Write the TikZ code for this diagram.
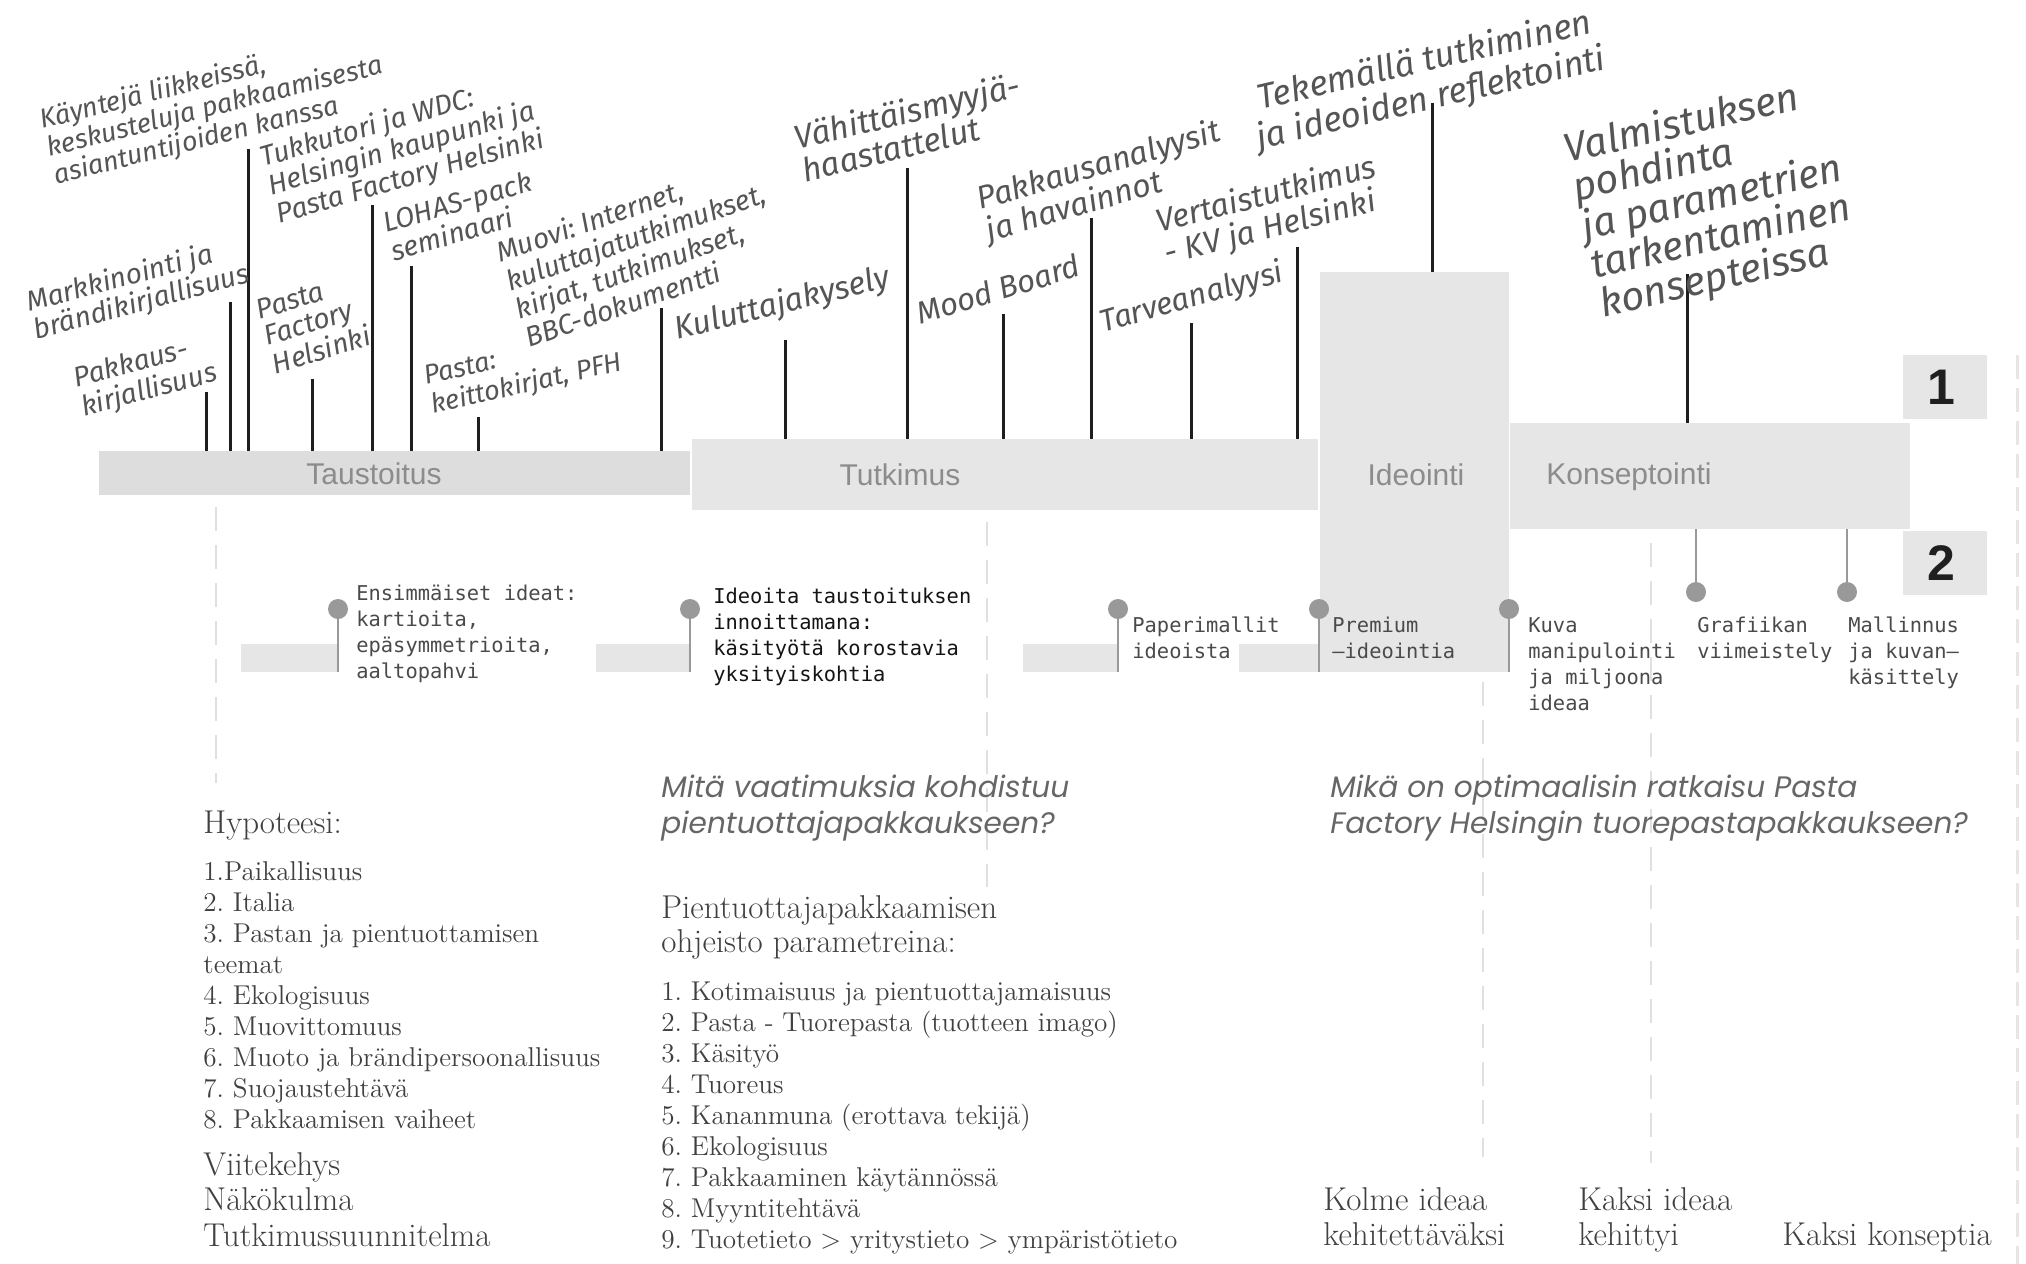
\documentclass[tikz,border=0pt]{standalone}
\usepackage{fontspec}
\newfontfamily\barfont{Liberation Sans}
\newfontfamily\pinfont{DejaVu Sans Mono}
\newfontfamily\qfont{Poppins}
\newfontfamily\handfont{Fira Sans}
\frenchspacing
\definecolor{barA}{HTML}{DDDDDD}
\definecolor{barB}{HTML}{E6E6E6}
\definecolor{tickcol}{HTML}{1E1E1E}
\definecolor{pincol}{HTML}{999999}
\definecolor{dashcol}{HTML}{E0E0E0}
\definecolor{serifcol}{HTML}{404040}
\definecolor{qcol}{HTML}{666666}
\definecolor{handcol}{HTML}{555555}
\definecolor{barlab}{HTML}{8C8C8C}
\definecolor{pintext}{HTML}{4A4A4A}
\newcommand\mlines[1]{\begin{tabular}[t]{@{}l@{}}#1\end{tabular}}
\tikzset{
  barbox/.style={rectangle, anchor=north west, inner sep=0pt, outer sep=0pt, draw=none, fill=barB},
  barlabel/.style={inner sep=0pt, text=barlab, font=\barfont\fontsize{15pt}{18pt}\selectfont},
  numlabel/.style={font=\barfont\bfseries\fontsize{25pt}{30pt}\selectfont, text=black!88},
  tickline/.style={draw=tickcol, line width=1.5pt},
  dashline/.style={draw=dashcol, line width=1pt, dash pattern=on 12pt off 7pt},
  pinhead/.style={circle, fill=pincol, inner sep=0pt, minimum size=10pt},
  pinstem/.style={draw=pincol, line width=1.3pt},
  pintxt/.style={anchor=base west, inner sep=0pt, text=pintext, font=\pinfont\fontsize{10.2pt}{13pt}\selectfont},
  hand/.style 2 args={anchor=base west, inner sep=0pt, text=handcol, font=\handfont\itshape\fontsize{#1}{#2}\selectfont},
  serifhead/.style={anchor=base west, inner sep=0pt, text=serifcol, font=\fontsize{16.5pt}{17.75pt}\selectfont},
  seriflist/.style={anchor=base west, inner sep=0pt, text=serifcol, font=\fontsize{13.6pt}{15.5pt}\selectfont},
  qtext/.style={anchor=base west, inner sep=0pt, text=qcol, font=\qfont\itshape\fontsize{14.8pt}{18pt}\selectfont}
}
\begin{document}
\begin{tikzpicture}[x=0.5pt,y=-0.5pt]
\useasboundingbox[fill=white] (0,0) rectangle (2026,1264);

% dashed guide lines
\coordinate (d1a) at (216,507);  \coordinate (d1b) at (216,783);
\coordinate (d2a) at (987,522);  \coordinate (d2b) at (987,887);
\coordinate (d3a) at (1483,682); \coordinate (d3b) at (1483,1157);
\coordinate (d4a) at (1651,543); \coordinate (d4b) at (1651,1163);
\coordinate (d5a) at (2017,355); \coordinate (d5b) at (2017,1264);
\draw[dashline] (d1a) -- (d1b);
\draw[dashline] (d2a) -- (d2b);
\draw[dashline] (d3a) -- (d3b);
\draw[dashline] (d4a) -- (d4b);
\draw[dashline, line width=1.5pt, draw=dashcol!80, dash pattern=on 12pt off 4.5pt] (d5a) -- (d5b);

% phase bars
\node[barbox, fill=barA, minimum width=295.5pt, minimum height=22pt] (taus) at (99,451) {};
\node[barbox, minimum width=313pt, minimum height=35.5pt] (tutk) at (692,439) {};
\node[barbox, minimum width=94.5pt, minimum height=200pt] (ideo) at (1320,272) {};
\node[barbox, minimum width=200pt, minimum height=53pt] (kons) at (1510,423) {};
\node[barbox, minimum width=42pt, minimum height=32pt] (box1) at (1903,355) {};
\node[barbox, minimum width=42pt, minimum height=32pt] (box2) at (1903,531) {};
\node[numlabel] (n1) at (1941,387) {1};
\node[numlabel] (n2) at (1941,563) {2};

\node[barlabel] (ltaus) at (374,474) {Taustoitus};
\node[barlabel] (ltutk) at (900,475) {Tutkimus};
\node[barlabel] (lideo) at (1416,475) {Ideointi};
\node[barlabel, anchor=west] (lkons) at (1546,477) {Konseptointi};

% small strips
\node[barbox, minimum width=48.5pt, minimum height=14pt] (s1) at (241,644) {};
\node[barbox, minimum width=47pt, minimum height=14pt] (s2) at (596,644) {};
\node[barbox, minimum width=47.5pt, minimum height=14pt] (s3) at (1023,644) {};
\node[barbox, minimum width=40pt, minimum height=14pt] (s4) at (1239,644) {};

% ticks
\coordinate (k1) at (206,392);
\coordinate (k2) at (230,302);
\coordinate (k3) at (248,149);
\coordinate (k4) at (312,379);
\coordinate (k5) at (372,205);
\coordinate (k6) at (411,266);
\coordinate (k7) at (478,417);
\coordinate (k8) at (661,308);
\coordinate (k9) at (785,340);
\coordinate (k10) at (907,168);
\coordinate (k11) at (1003,314);
\coordinate (k12) at (1091,218);
\coordinate (k13) at (1191,323);
\coordinate (k14) at (1297,247);
\coordinate (k15) at (1432,103);
\coordinate (k16) at (1687,274);
\foreach \k in {k1,k2,k3,k4,k5,k6,k7,k8} {\draw[tickline] (\k) -- (\k |- taus.north);}
\foreach \k in {k9,k10,k11,k12,k13,k14} {\draw[tickline] (\k) -- (\k |- tutk.north);}
\draw[tickline] (k15) -- (k15 |- ideo.north);
\draw[tickline] (k16) -- (k16 |- kons.north);

% handwritten labels
\node[hand={13.5pt}{12.5pt}, rotate=14] (h1) at (42,129) {\mlines{Käyntejä liikkeissä,\\keskusteluja pakkaamisesta\\asiantuntijoiden kanssa}};
\node[hand={14pt}{11pt}, rotate=15] (h2) at (29,312) {\mlines{Markkinointi ja\\brändikirjallisuus}};
\node[hand={14pt}{13pt}, rotate=15] (h3) at (76,388) {\mlines{Pakkaus-\\kirjallisuus}};
\node[hand={14pt}{13pt}, rotate=17] (h4) at (259,320) {\mlines{Pasta\\Factory\\Helsinki}};
\node[hand={14pt}{12.5pt}, rotate=16] (h5) at (263,167) {\mlines{Tukkutori ja WDC:\\Helsingin kaupunki ja\\Pasta Factory Helsinki}};
\node[hand={14pt}{12.5pt}, rotate=16] (h6) at (386,233) {\mlines{LOHAS-pack\\seminaari}};
\node[hand={13.5pt}{14.5pt}, rotate=13] (h7) at (426,385) {\mlines{Pasta:\\keittokirjat, PFH}};
\node[hand={14pt}{13.5pt}, rotate=19] (h8) at (500,263) {\mlines{Muovi: Internet,\\kuluttajatutkimukset,\\kirjat, tutkimukset,\\BBC-dokumentti}};
\node[hand={16pt}{16pt}, rotate=14] (h9) at (677,340) {Kuluttajakysely};
\node[hand={16.5pt}{14pt}, rotate=13.5] (h10) at (797,150) {\mlines{Vähittäismyyjä-\\haastattelut}};
\node[hand={16pt}{13.5pt}, rotate=16] (h11) at (980,210) {\mlines{Pakkausanalyysit\\ja havainnot}};
\node[hand={15.5pt}{15pt}, rotate=17] (h12) at (920,325) {Mood Board};
\node[hand={16pt}{13.5pt}, rotate=14.5] (h13) at (1159,233) {\mlines{Vertaistutkimus\\- KV ja Helsinki}};
\node[hand={15.5pt}{15pt}, rotate=16] (h14) at (1103,333) {Tarveanalyysi};
\node[hand={17.5pt}{18pt}, rotate=13] (h15) at (1260,110) {\mlines{Tekemällä tutkiminen\\\hspace*{-5pt}ja ideoiden reflektointi}};
\node[hand={20pt}{13.5pt}, rotate=13] (h16) at (1567,163) {\mlines{Valmistuksen\\pohdinta\\ja parametrien\\tarkentaminen\\konsepteissa}};

% pins
\node[pinhead] (p1) at (338,609) {};
\node[pinhead] (p2) at (690,609) {};
\node[pinhead] (p3) at (1118,609) {};
\node[pinhead] (p4) at (1319,609) {};
\node[pinhead] (p5) at (1509,609) {};
\node[pinhead] (p6) at (1696,592) {};
\node[pinhead] (p7) at (1847,592) {};
\draw[pinstem] (p1.center) -- (p1 |- s1.south);
\draw[pinstem] (p2.center) -- (p2 |- s2.south);
\draw[pinstem] (p3.center) -- (p3 |- s3.south);
\draw[pinstem] (p4.center) -- (p4 |- s4.south);
\draw[pinstem] (p5.center) -- (p5 |- ideo.south);
\draw[pinstem] (p6 |- kons.south) -- (p6.center);
\draw[pinstem] (p7 |- kons.south) -- (p7.center);

\node[pintxt] (t1) at (356,600) {\mlines{Ensimmäiset ideat:\\kartioita,\\epäsymmetrioita,\\aaltopahvi}};
\node[pintxt, text=black!92] (t2) at (713,603) {\mlines{Ideoita taustoituksen\\innoittamana:\\käsityötä korostavia\\yksityiskohtia}};
\node[pintxt] (t3) at (1132,632) {\mlines{Paperimallit\\ideoista}};
\node[pintxt] (t4) at (1332,632) {\mlines{Premium\\–ideointia}};
\node[pintxt] (t5) at (1528,632) {\mlines{Kuva\\manipulointi\\ja miljoona\\ideaa}};
\node[pintxt] (t6) at (1697,632) {\mlines{Grafiikan\\viimeistely}};
\node[pintxt] (t7) at (1848,632) {\mlines{Mallinnus\\ja kuvan–\\käsittely}};

% lower text columns
\node[serifhead] (hyp) at (203,833) {Hypoteesi:};
\node[seriflist] (hyplist) at (203,880) {\mlines{1.Paikallisuus\\2. Italia\\3. Pastan ja pientuottamisen\\teemat\\4. Ekologisuus\\5. Muovittomuus\\6. Muoto ja brändipersoonallisuus\\7. Suojaustehtävä\\8. Pakkaamisen vaiheet}};
\node[serifhead] (viite) at (203,1175) {\mlines{Viitekehys\\Näkökulma\\Tutkimussuunnitelma}};

\node[qtext] (q1) at (661,797) {\mlines{Mitä vaatimuksia kohdistuu\\pientuottajapakkaukseen?}};
\node[serifhead, font=\fontsize{16.5pt}{17pt}\selectfont] (ohj) at (661,918) {\mlines{Pientuottajapakkaamisen\\ohjeisto parametreina:}};
\node[seriflist] (ohjlist) at (661,1000) {\mlines{1. Kotimaisuus ja pientuottajamaisuus\\2. Pasta - Tuorepasta (tuotteen imago)\\3. Käsityö\\4. Tuoreus\\5. Kananmuna (erottava tekijä)\\6. Ekologisuus\\7. Pakkaaminen käytännössä\\8. Myyntitehtävä\\9. Tuotetieto > yritystieto > ympäristötieto}};

\node[qtext] (q2) at (1330,797) {\mlines{Mikä on optimaalisin ratkaisu Pasta\\Factory Helsingin tuorepastapakkaukseen?}};
\node[serifhead, font=\fontsize{16.5pt}{17.5pt}\selectfont] (kolme) at (1323,1210) {\mlines{Kolme ideaa\\kehitettäväksi}};
\node[serifhead, font=\fontsize{16.5pt}{17.5pt}\selectfont] (kaksi) at (1578,1210) {\mlines{Kaksi ideaa\\kehittyi}};
\node[serifhead] (konsep) at (1782,1245) {Kaksi konseptia};
\end{tikzpicture}
\end{document}
